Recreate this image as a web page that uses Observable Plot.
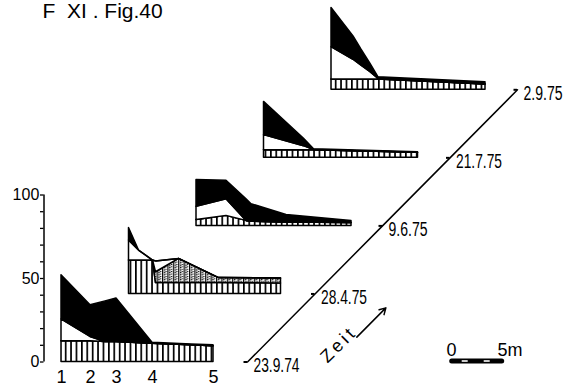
<!DOCTYPE html>
<html><head><meta charset="utf-8">
<script src="https://cdn.jsdelivr.net/npm/d3@7"></script>
<script src="https://cdn.jsdelivr.net/npm/@observablehq/plot@0.6"></script>
<style>html,body{margin:0;padding:0;background:#fff}</style>
</head><body><div id="chart"></div>
<script>
// ---- data ----
const title = "F\u00a0\u00a0XI\u00a0.\u00a0Fig.40";
const dates = ["23.9.74", "28.4.75", "9.6.75", "21.7.75", "2.9.75"];
const stationLabels = ["1", "2", "3", "4", "5"];
const stationDist = [0, 2.9, 5.5, 9.1, 15.2];           // m
const yTicks = [0, 50, 100];
const yMinorTicks = [0, 10, 20, 30, 40, 50, 60, 70, 80, 90, 100];
const scaleLabels = ["0", "5m"];
const scaleMetres = [0, 5];

// each panel: distance (m) and cumulative tops of the four layers
const p1Dist    = [0, 2.9, 4.4, 5.5, 9.1, 13, 15.2];
const p1Hatch   = [12.5, 12.5, 12, 12, 11, 10, 9.5];
const p1Stipple = [12.5, 12.5, 12, 12, 11, 10, 9.5];
const p1White   = [25.5, 15, 12, 12, 11, 10, 9.5];
const p1Total   = [52, 34, 36.3, 38, 11.5, 10.5, 10];

const p2Dist    = [0, 1, 2.4, 2.7, 5, 9, 15.2];
const p2Hatch   = [20, 20, 20, 6.5, 6.5, 6.5, 6.3];
const p2Stipple = [20, 20, 20, 13, 21, 9.5, 9.3];
const p2White   = [32, 26, 20, 19.5, 21, 9.5, 9.3];
const p2Total   = [39.5, 26, 20, 19.5, 21, 9.5, 9.3];

const p3Dist    = [0, 3, 5, 5.5, 9, 15.5];
const p3Hatch   = [3.6, 6, 3, 2.5, 2, 1.8];
const p3Stipple = [3.6, 6, 3, 2.5, 2, 1.8];
const p3White   = [11.5, 16, 3, 2.5, 2, 1.8];
const p3Total   = [27.5, 27, 16, 13, 6.5, 3];

const p4Dist    = [0, 4, 5, 15.4];
const p4Hatch   = [4.6, 4.6, 4.6, 3];
const p4Stipple = [4.6, 4.6, 4.6, 3];
const p4White   = [13.6, 7, 4.6, 3];
const p4Total   = [33.5, 11.4, 5.2, 3.4];

const p5Dist    = [0, 2.2, 3, 3.9, 4.7, 15.4];
const p5Hatch   = [6.2, 6.2, 6.2, 6.2, 6.2, 3.2];
const p5Stipple = [6.2, 6.2, 6.2, 6.2, 6.2, 3.2];
const p5White   = [25.5, 18, 14.5, 10.5, 6.5, 3.2];
const p5Total   = [49, 32, 24, 15.5, 7.5, 4.5];

// ---- layout (pseudo-3D shift per date) ----
const OX = 6.75, OY = 40.75;   // panel shift per date step
const AXIS_X = 18.6;           // time axis offset from panel origin
const Y_AXIS_X = -1.75;
const SB_X = 39.07, SB_Y = 0.6;

const panels = [
  [p1Dist, p1Hatch, p1Stipple, p1White, p1Total],
  [p2Dist, p2Hatch, p2Stipple, p2White, p2Total],
  [p3Dist, p3Hatch, p3Stipple, p3White, p3Total],
  [p4Dist, p4Hatch, p4Stipple, p4White, p4Total],
  [p5Dist, p5Hatch, p5Stipple, p5White, p5Total]
];
const layers = ["hatch", "stipple", "white", "black"];
const rows = [];
panels.forEach(([dist, ...tops], i) => {
  dist.forEach((d, j) => {
    let lo = 0;
    tops.forEach((top, k) => {
      rows.push({panel: i, layer: layers[k], x: d + i * OX, y1: lo + i * OY, y2: top[j] + i * OY});
      lo = top[j];
    });
  });
});
const fills = {hatch: "url(#hatch)", stipple: "url(#stip)", white: "white", black: "black"};
const layerMarks = layers.map(L => Plot.areaY(rows.filter(r => r.layer === L), {
  x: "x", y1: "y1", y2: "y2", z: "panel", fill: fills[L], stroke: "black", strokeWidth: 1.5, strokeLinejoin: "round"
}));

const tX = i => AXIS_X + i * OX;
const tY = i => i * OY;
const SANS = "'Liberation Sans', Arial, sans-serif";

const svg = Plot.plot({
  width: 563, height: 391,
  marginLeft: 0, marginRight: 0, marginTop: 0, marginBottom: 0,
  x: {domain: [-6.1, 50.2], axis: null},
  y: {domain: [-17.66, 216.47], axis: null},
  style: {background: "white", fontFamily: SANS, color: "black"},
  marks: [
    ...layerMarks,
    // y axis of first panel
    Plot.ruleX([Y_AXIS_X], {y1: 0, y2: 100, strokeWidth: 1.5}),
    Plot.ruleY(yMinorTicks, {x1: Y_AXIS_X - 0.35, x2: Y_AXIS_X, strokeWidth: 1.3}),
    Plot.text(yTicks, {x: Y_AXIS_X - 0.45, y: d => d, text: d => String(d), textAnchor: "end", fontSize: 16}),
    // station labels
    Plot.text(stationLabels, {x: (d, i) => stationDist[i], y: 0, dy: 15, text: d => d, fontSize: 18}),
    // time axis
    Plot.line(dates, {x: (d, i) => tX(i), y: (d, i) => tY(i), strokeWidth: 1.5}),
    Plot.ruleY(dates, {y: (d, i) => tY(i), x1: (d, i) => tX(i) - 0.35, x2: (d, i) => tX(i), strokeWidth: 2}),
    Plot.text(dates, {x: (d, i) => tX(i), y: (d, i) => tY(i), text: d => d, dx: 6, dy: 4, textAnchor: "start", fontSize: 20}),
    Plot.text(["Zeit"], {x: tX(0.77), y: tY(0.77), dx: 38, dy: 36, rotate: -45, fontSize: 18, text: d => d}),
    Plot.arrow([0], {x1: tX(0.99), y1: tY(0.99), x2: tX(1.42), y2: tY(1.42), dx: 42.5, dy: 42.5, strokeWidth: 1.5, headLength: 7}),
    // scale bar
    Plot.ruleY([SB_Y], {x1: SB_X + scaleMetres[0], x2: SB_X + scaleMetres[1], strokeWidth: 5, strokeLinecap: "round"}),
    Plot.ruleY([SB_Y, SB_Y], {x1: (d, i) => SB_X + [1, 3.2][i], x2: (d, i) => SB_X + [1.6, 3.8][i], stroke: "white", strokeWidth: 1.6}),
    Plot.text(scaleLabels, {x: (d, i) => SB_X + scaleMetres[i] + (i ? -0.47 : -0.57), y: SB_Y, dy: -11, text: d => d, textAnchor: "start", fontSize: 18}),
    // title
    Plot.text([title], {frameAnchor: "top-left", dx: 42, dy: 17, lineAnchor: "bottom", textAnchor: "start", fontSize: 21, text: d => d})
  ]
});

const defs = d3.select(svg).insert("defs", ":first-child");
defs.html(`
<pattern id="hatch" patternUnits="userSpaceOnUse" width="5.4" height="8">
  <rect width="5.4" height="8" fill="white"/>
  <rect x="0" width="1.7" height="8" fill="black"/>
</pattern>
<pattern id="stip" patternUnits="userSpaceOnUse" width="5.4" height="2.4">
  <rect width="5.4" height="2.4" fill="white"/>
  <rect x="0" width="1.2" height="2.4" fill="black"/>
  <circle cx="2.5" cy="1.2" r="0.75" fill="black"/>
  <circle cx="4.1" cy="0.3" r="0.75" fill="black"/>
</pattern>`);
document.getElementById("chart").appendChild(svg);

// condensed technical lettering: squeeze date labels horizontally to the reference widths
d3.select(svg).selectAll("text").each(function () {
  const t = this.textContent;
  if (dates.includes(t)) {
    const target = t.length === 7 ? 46 : 39;
    const natural = this.getComputedTextLength();
    const s = natural > 0 ? target / natural : 1;
    const tr = this.getAttribute("transform");
    if (tr) {
      this.setAttribute("transform", `${tr} scale(${s},1)`);
    } else {
      const x = +this.getAttribute("x") || 0, y = +this.getAttribute("y") || 0;
      this.setAttribute("x", 0); this.setAttribute("y", 0);
      this.setAttribute("transform", `translate(${x},${y}) scale(${s},1)`);
    }
  } else if (t === "Zeit") {
    this.setAttribute("textLength", 40);
    this.setAttribute("lengthAdjust", "spacing");
  } else if (t === "100") {
    this.setAttribute("textLength", 27);
    this.setAttribute("lengthAdjust", "spacing");
  }
});
</script>
</body></html>
